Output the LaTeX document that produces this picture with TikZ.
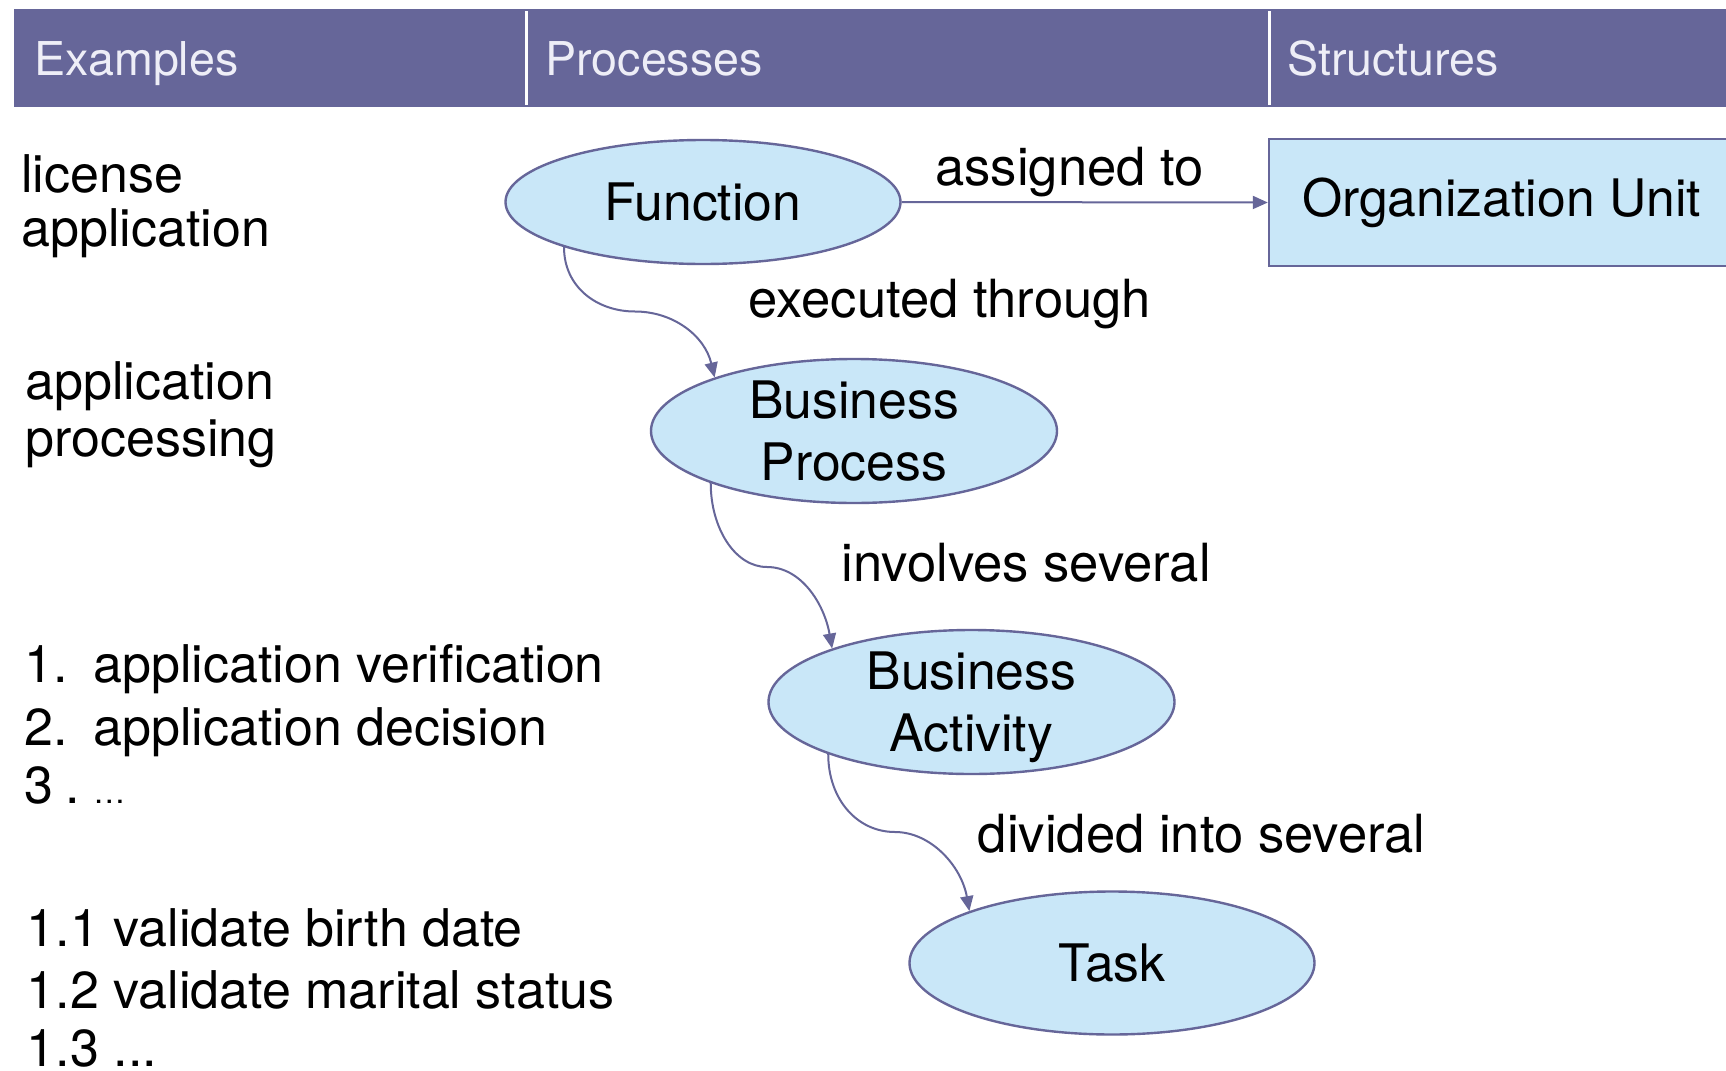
\documentclass[tikz,border=0pt]{standalone}
\usepackage{fontspec}
\setmainfont{TeX Gyre Heros}
\usetikzlibrary{arrows.meta,shapes.geometric}
\definecolor{hdr}{HTML}{666699}
\definecolor{hdrtxt}{HTML}{EEEEF7}
\definecolor{bub}{HTML}{C9E7F8}
\begin{document}
\begin{tikzpicture}[x=0.5pt,y=-0.5pt,
  hdrtext/.style={anchor=base west, inner sep=0pt, text=hdrtxt, font=\fontsize{23.3}{27}\selectfont},
  lt/.style={anchor=base west, inner sep=0pt, font=\fontsize{26}{30}\selectfont},
  lbl/.style={anchor=base west, inner sep=0pt, font=\fontsize{26.3}{30}\selectfont},
  bubble/.style={ellipse, draw=hdr, fill=bub, line width=1.2pt, inner xsep=0pt, inner ysep=-8pt,
    text depth=0pt, align=center, font=\fontsize{25.85}{31}\selectfont},
  conn/.style={draw=hdr, line width=1pt, -{Triangle[length=7.5pt,width=6.5pt]}},
  divider/.style={draw=white, line width=1.5pt},
]
\useasboundingbox (0,0) rectangle (1726,1071);
\fill[white] (0,0) rectangle (1726,1071);

% header band
\fill[hdr] (14,9) rectangle (1726,107);
\draw[divider] (526,11) -- (526,105);
\draw[divider] (1269,11) -- (1269,105);
\node[hdrtext] (hex) at (34,75) {Examples};
\node[hdrtext] (hpr) at (545,75) {Processes};
\node[hdrtext] (hst) at (1287,75) {Structures};

% process nodes
\node[bubble, minimum width=197.5pt, minimum height=62pt] (fn) at (703,202) {Function};
\node[bubble, minimum width=203pt, minimum height=72pt] (bp) at (854,431) {Business\\Process};
\node[bubble, minimum width=203pt, minimum height=72pt] (ba) at (971.5,702) {Business\\Activity};
\node[bubble, minimum width=202.5pt, minimum height=71.5pt] (task) at (1112,963) {Task};
\node[draw=hdr, fill=bub, line width=1.2pt, minimum width=232.5pt, minimum height=63.5pt,
  inner sep=0pt, font=\fontsize{25.85}{31}\selectfont] (org) at (1501.5,202.5) {Organization Unit};

% connectors
\draw[conn] (fn.east) -- (org.west);
\coordinate (m1) at (635,311.5);
\coordinate (m2) at (767,567);
\coordinate (m3) at (895,832);
\draw[conn] (fn.198.5) .. controls +(0,40) and +(-38,0) .. (m1)
  .. controls +(38,0) and +(-10,-42) .. (bp.159.6);
\draw[conn] (bp.200.4) .. controls +(0,45) and +(-32,0) .. (m2)
  .. controls +(34,0) and +(-8,-45) .. (ba.159.8);
\draw[conn] (ba.200.4) .. controls +(0,45) and +(-38,0) .. (m3)
  .. controls +(36,0) and +(-8,-45) .. (task.160);

% connector labels
\node[lbl] (l1) at (935,185) {assigned to};
\node[lbl] (l2) at (748.5,317) {executed through};
\node[lbl] (l3) at (841,581) {involves several};
\node[lbl] (l4) at (977.5,852) {divided into several};

% examples column
\node[lt] (e1a) at (21,192) {license};
\node[lt] (e1b) at (21,246.5) {application};
\node[lt] (e2a) at (25,399.5) {application};
\node[lt] (e2b) at (25,456) {processing};
\node[lt] (e3a) at (24,682.5) {\makebox[34.5pt][l]{1.}application verification};
\node[lt] (e3b) at (24,745) {\makebox[34.5pt][l]{2.}application decision};
\node[lt] (e3c) at (24,803.5) {\makebox[34.5pt][l]{3\hspace{6pt}.}{\fontsize{16}{16}\selectfont …}};
\node[lt] (e4a) at (26.5,946.5) {1.1 validate birth date};
\node[lt] (e4b) at (26.5,1008) {1.2 validate marital status};
\node[lt] (e4c) at (26.5,1066) {1.3 ...};
\end{tikzpicture}
\end{document}
